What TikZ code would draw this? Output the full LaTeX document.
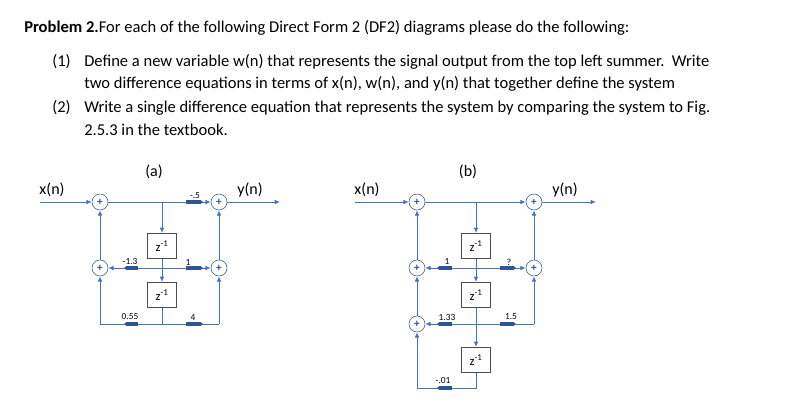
\documentclass[tikz,border=0pt]{standalone}
\usepackage{fontspec}
\setmainfont{Carlito}
\usetikzlibrary{arrows.meta}
\definecolor{ln}{HTML}{4472C4}
\definecolor{gn}{HTML}{2F5597}
\begin{document}
\begin{tikzpicture}[x=0.75pt,y=-0.75pt,
  sum/.style={circle,draw=gn,fill=white,inner sep=0pt,minimum size=12pt,font=\fontsize{8.5}{8.5}\selectfont\bfseries,text=gn},
  dl/.style={draw=black!70,fill=white,minimum width=22pt,minimum height=19pt,inner sep=0pt,font=\fontsize{9.5}{9.5}\selectfont},
  wire/.style={draw=ln,line width=0.7pt},
  arr/.style={wire,-{Latex[length=4pt,width=3.5pt]}},
  gain/.style={draw=gn,line width=2.4pt,-{Latex[length=2pt,width=3.5pt]}},
  gl/.style={font=\fontsize{7}{7}\selectfont,inner sep=0pt},
  txt/.style={anchor=west,inner sep=0pt,font=\fontsize{12.4}{14}\selectfont},
  sig/.style={inner sep=0pt,font=\fontsize{12}{13}\selectfont}]
\useasboundingbox (0,0) rectangle (789,405);
% text
\node[txt] (t0) at (24,28) {\textbf{Problem 2.}For each of the following Direct Form 2 (DF2) diagrams please do the following:};
\node[txt] (t1) at (52,62) {(1)};
\node[txt] (t1a) at (84,62) {Define a new variable w(n) that represents the signal output from the top left summer.\ \ Write};
\node[txt] (t1b) at (84,84) {two difference equations in terms of x(n), w(n), and y(n) that together define the system};
\node[txt] (t2) at (52,108) {(2)};
\node[txt] (t2a) at (84,108) {Write a single difference equation that represents the system by comparing the system to Fig.};
\node[txt] (t2b) at (84,130) {2.5.3 in the textbook.};
% ---------- (a)
\node[sig] (la) at (154,172) {(a)};
\node[sig] (xa) at (52,190) {x(n)};
\node[sig] (ya) at (250,190) {y(n)};
\coordinate (ina) at (40,202);
\coordinate (outa) at (280,202);
\node[sum] (s1) at (100,202) {+};
\node[sum] (s2) at (219,202) {+};
\node[sum] (s3) at (100,268) {+};
\node[sum] (s4) at (219,268) {+};
\node[dl] (d1) at (162,246) {z\textsuperscript{-1}};
\node[dl] (d2) at (162,295) {z\textsuperscript{-1}};
\coordinate (ba) at (162,202);
\coordinate (ma) at (162,268);
\coordinate (bla) at (100,324);
\coordinate (bma) at (162,324);
\coordinate (bra) at (219,324);
\draw[arr] (ina) -- (s1);
\draw[wire] (s1) -- (ba);
\draw[arr] (ba) -- (s2);
\draw[arr] (s2) -- (outa);
\draw[arr] (ba) -- (d1);
\draw[arr] (d1) -- (d2);
\draw[arr] (ma) -- (s3);
\draw[arr] (ma) -- (s4);
\draw[arr] (s3) -- (s1);
\draw[arr] (s4) -- (s2);
\draw[wire] (d2) -- (bma);
\draw[wire] (bma) -- (bla);
\draw[arr] (bla) -- (s3);
\draw[wire] (bma) -- (bra);
\draw[arr] (bra) -- (s4);
\draw[gain] (186,202) -- (203,202); \node[gl] (ga1) at (195,196) {-.5};
\draw[gain] (138,268) -- (124,268); \node[gl] (ga2) at (130,261) {-1.3};
\draw[gain] (186,268) -- (203,268); \node[gl] (ga3) at (188,262) {1};
\draw[gain] (138,324) -- (124,324); \node[gl] (ga4) at (130,316) {0.55};
\draw[gain] (186,324) -- (203,324); \node[gl] (ga5) at (193,317) {4};
% ---------- (b)
\node[sig] (lb) at (468,172) {(b)};
\node[sig] (xb) at (367,190) {x(n)};
\node[sig] (yb) at (565,190) {y(n)};
\coordinate (inb) at (355,202);
\coordinate (outb) at (596,202);
\node[sum] (u1) at (417,202) {+};
\node[sum] (u2) at (534,202) {+};
\node[sum] (u3) at (417,268) {+};
\node[sum] (u4) at (534,268) {+};
\node[sum] (u5) at (417,324) {+};
\node[dl] (e1) at (476,246) {z\textsuperscript{-1}};
\node[dl] (e2) at (476,295) {z\textsuperscript{-1}};
\node[dl] (e3) at (476,360) {z\textsuperscript{-1}};
\coordinate (bb) at (476,202);
\coordinate (mb) at (476,268);
\coordinate (nb) at (476,324);
\coordinate (rb) at (534,324);
\coordinate (qb) at (476,388);
\coordinate (lb2) at (417,388);
\draw[arr] (inb) -- (u1);
\draw[wire] (u1) -- (bb);
\draw[arr] (bb) -- (u2);
\draw[arr] (u2) -- (outb);
\draw[arr] (bb) -- (e1);
\draw[arr] (e1) -- (e2);
\draw[arr] (e2) -- (e3);
\draw[arr] (mb) -- (u3);
\draw[arr] (mb) -- (u4);
\draw[arr] (nb) -- (u5);
\draw[wire] (nb) -- (rb);
\draw[arr] (rb) -- (u4);
\draw[arr] (u3) -- (u1);
\draw[arr] (u5) -- (u3);
\draw[arr] (u4) -- (u2);
\draw[wire] (e3) -- (qb) -- (lb2);
\draw[arr] (lb2) -- (u5);
\draw[gain] (452,268) -- (437,268); \node[gl] (gb1) at (447,261) {1};
\draw[gain] (500,268) -- (516,268); \node[gl] (gb2) at (509,262) {?};
\draw[gain] (452,324) -- (437,324); \node[gl] (gb3) at (447,317) {1.33};
\draw[gain] (500,324) -- (516,324); \node[gl] (gb4) at (511,317) {1.5};
\draw[gain] (452,388) -- (437,388); \node[gl] (gb5) at (443,380) {-.01};
\end{tikzpicture}
\end{document}
